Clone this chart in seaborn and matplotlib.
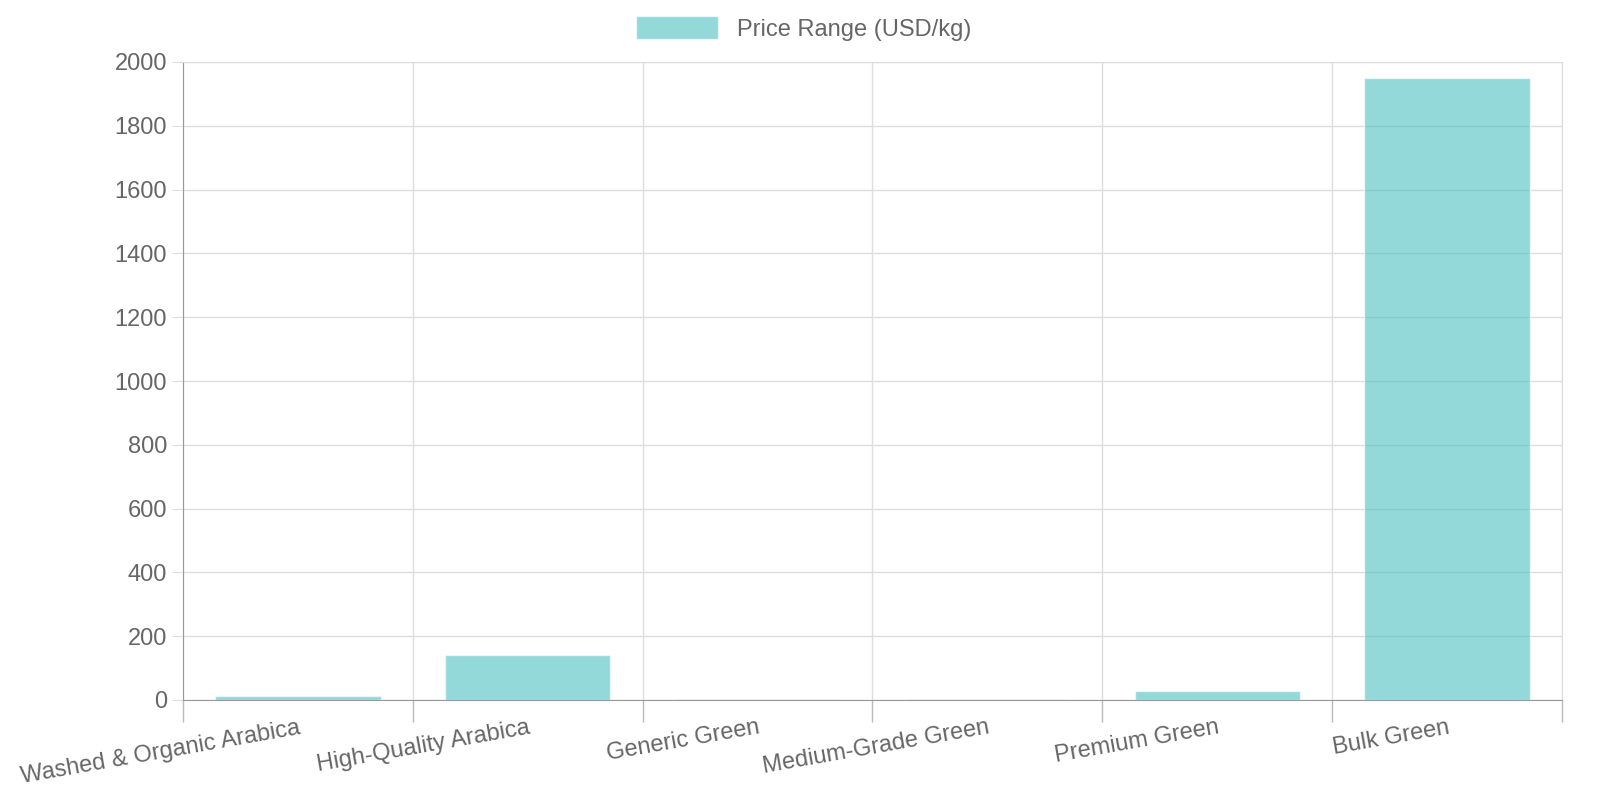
import numpy as np
import pandas as pd
import matplotlib
matplotlib.use("Agg")
import matplotlib.pyplot as plt
import seaborn as sns

categories = ["Washed & Organic Arabica", "High-Quality Arabica", "Generic Green",
              "Medium-Grade Green", "Premium Green", "Bulk Green"]
prices = [13, 141, 2, 4, 29, 1950]

df = pd.DataFrame({"cat": categories, "price": prices})

sns.set_style("white")
plt.rcParams["font.family"] = ["Liberation Sans", "DejaVu Sans"]

fig = plt.figure(figsize=(16, 8), dpi=100)
ax = fig.add_axes([183 / 1600, 100 / 800, 1379 / 1600, 638 / 800])

sns.barplot(data=df, x="cat", y="price", color="#4BC0C0", alpha=0.6,
            width=0.72, saturation=1, ax=ax, label="Price Range (USD/kg)")

ax.set_xlim(-0.5, len(categories) - 0.5)
ax.set_ylim(0, 2000)
ax.set_yticks(range(0, 2001, 200))
ax.set_xlabel("")
ax.set_ylabel("")

# grid lines between categories, like the original
ax.set_xticks(np.arange(-0.5, len(categories), 1), minor=True)
ax.grid(True, which="minor", axis="x", color="#dddddd", lw=1)
ax.grid(True, which="major", axis="y", color="#dddddd", lw=1)
ax.set_axisbelow(True)
ax.tick_params(axis="x", which="major", length=0, pad=12)
ax.tick_params(axis="x", which="minor", bottom=True, length=16, width=1, color="#bbbbbb")
ax.tick_params(axis="y", left=True, length=8, color="#dddddd", labelsize=17, labelcolor="#666666")
for lab in ax.get_xticklabels():
    lab.set_rotation(10)
    lab.set_ha("right")
    lab.set_rotation_mode("anchor")
    lab.set_fontsize(17)
    lab.set_color("#666666")

for side in ["top", "right"]:
    ax.spines[side].set_color("#dddddd")
ax.spines["left"].set_color("#999999")
ax.spines["bottom"].set_color("#999999")

ax.legend(loc="lower center", bbox_to_anchor=(0.45, 1.0), frameon=False,
          fontsize=17, labelcolor="#666666", handlelength=3.5, handleheight=1.1)

fig.savefig("out.png", dpi=100)
